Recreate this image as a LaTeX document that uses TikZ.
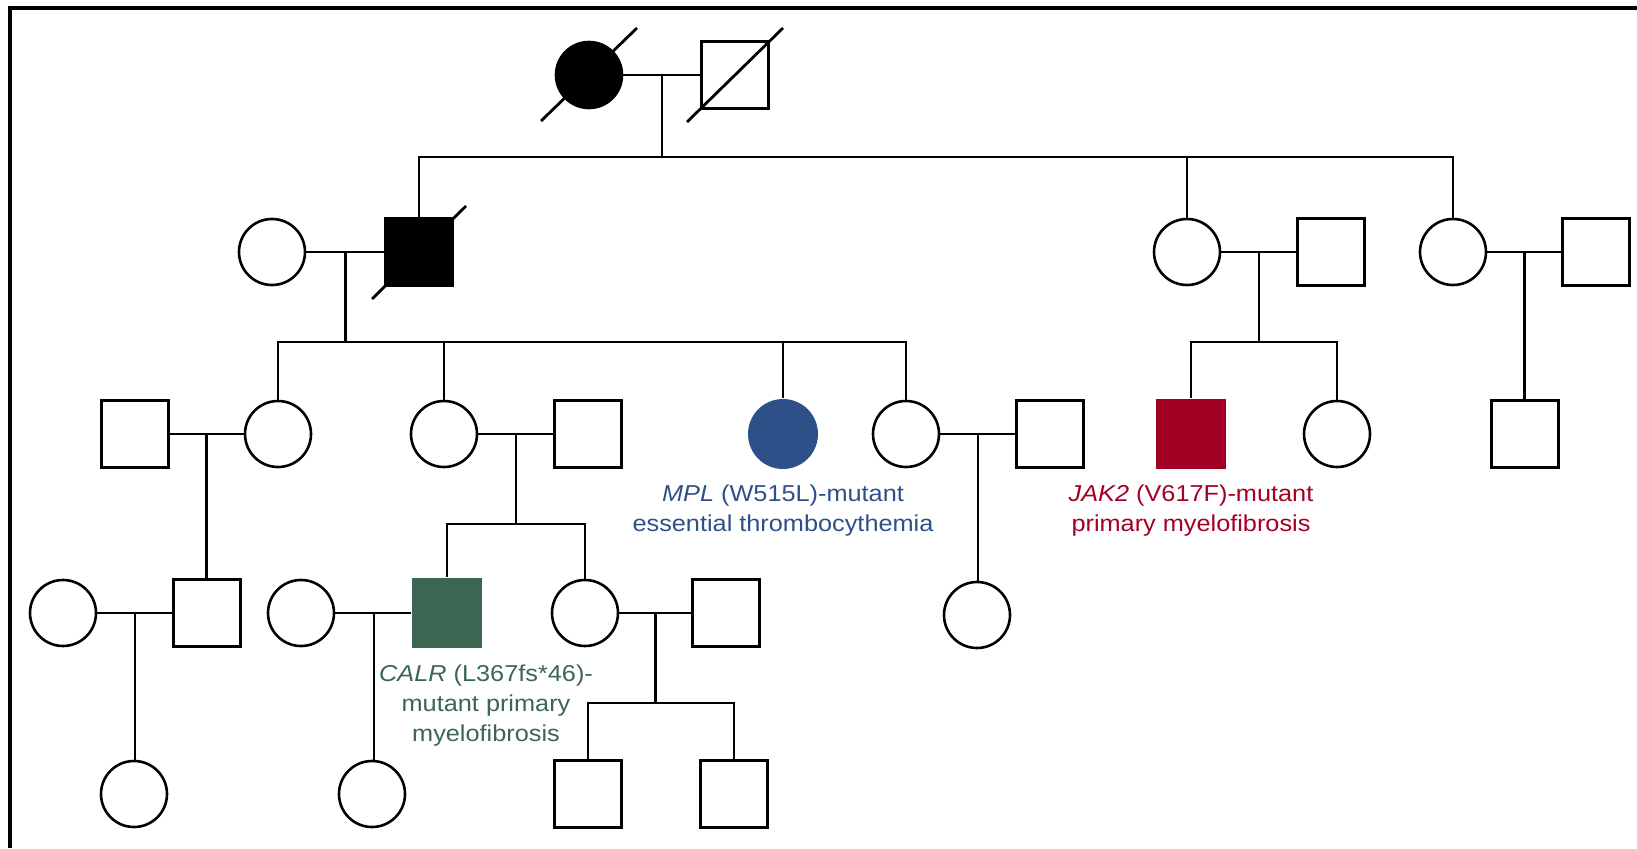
\documentclass[tikz,border=0pt]{standalone}
\usepackage{fontspec}
\setmainfont{Liberation Sans}[FakeStretch=1.1]
\usepackage{tikz}
\usetikzlibrary{calc,positioning}
\definecolor{mplblue}{HTML}{2E5088}
\definecolor{jakred}{HTML}{A30025}
\definecolor{calrgreen}{HTML}{3B6651}

\begin{document}
\begin{tikzpicture}[x=1pt,y=-1pt,line width=2.6pt]
    \tikzstyle{female}=[circle, minimum size=66pt, inner sep=0pt, draw]
    \tikzstyle{male}=[rectangle, minimum size=67pt, inner sep=0pt, draw]
    \tikzstyle{affected}=[fill=black]
    \tikzstyle{mutant}=[draw=none, minimum size=70pt]
    \tikzstyle{mut}=[font=\fontsize{23}{30}\selectfont, align=center, inner sep=0pt]

    \useasboundingbox (0,0) rectangle (1637,848);
    \draw[line width=4.5pt] (10,848) -- (10,8) -- (1637,8);

    % generation I
    \node[female,affected] (gm) at (589,75) {};
    \node[male]            (gf) at (735,75) {};
    \draw[line width=2.8pt] (gm.center) ++(-48,46) -- ++(96,-93);
    \draw[line width=2.8pt] (gf.center) ++(-48,47) -- ++(96,-94);

    % generation II
    \node[female]          (w2)  at (272,252) {};
    \node[male,affected]   (f2)  at (419,252) {};
    \node[female]          (d2a) at (1187,252) {};
    \node[male]            (h2a) at (1331,252) {};
    \node[female]          (d2b) at (1453,252) {};
    \node[male]            (h2b) at (1596,252) {};
    \draw[line width=2.8pt] (f2.center) ++(-47,47) -- ++(94,-93);

    % generation III
    \node[male]            (h3a) at (135,434) {};
    \node[female]          (d3a) at (278,434) {};
    \node[female]          (d3b) at (444,434) {};
    \node[male]            (h3b) at (588,434) {};
    \node[female,mutant,fill=mplblue] (mpl) at (783,434) {};
    \node[female]          (d3c) at (906,434) {};
    \node[male]            (h3c) at (1050,434) {};
    \node[male,mutant,fill=jakred] (jak) at (1191,434) {};
    \node[female]          (d3d) at (1337,434) {};
    \node[male]            (s3)  at (1525,434) {};

    % generation IV
    \node[female]          (w4a)  at (63,613) {};
    \node[male]            (s4a)  at (207,613) {};
    \node[female]          (w4b)  at (301,613) {};
    \node[male,mutant,fill=calrgreen] (calr) at (447,613) {};
    \node[female]          (d4a)  at (585,613) {};
    \node[male]            (h4a)  at (726,613) {};
    \node[female]          (d4b)  at (977,615) {};

    % generation V
    \node[female]          (c5a) at (134,794) {};
    \node[female]          (c5b) at (372,794) {};
    \node[male]            (c5c) at (588,794) {};
    \node[male]            (c5d) at (734,794) {};

    % unions
    \coordinate (u1) at ($(gm)!0.5!(gf)$);
    \coordinate (u2) at ($(w2)!0.5!(f2)$);
    \coordinate (u3) at ($(d2a)!0.5!(h2a)$);
    \coordinate (u4) at ($(d2b)!0.5!(h2b)$);
    \coordinate (u5) at ($(h3a)!0.5!(d3a)$);
    \coordinate (u6) at ($(d3b)!0.5!(h3b)$);
    \coordinate (u7) at ($(d3c)!0.5!(h3c)$);
    \coordinate (u8) at ($(w4a)!0.5!(s4a)$);
    \coordinate (u9) at ($(w4b)!0.5!(calr)$);
    \coordinate (u10) at ($(d4a)!0.5!(h4a)$);
    \draw (gm) -- (gf);
    \draw (w2) -- (f2);
    \draw (d2a) -- (h2a);
    \draw (d2b) -- (h2b);
    \draw (h3a) -- (d3a);
    \draw (d3b) -- (h3b);
    \draw (d3c) -- (h3c);
    \draw (w4a) -- (s4a);
    \draw (w4b) -- (calr);
    \draw (d4a) -- (h4a);

    % sibships
    \coordinate (s1) at ($(u1)+(0,82)$);
    \draw (u1) -- (s1);
    \draw (f2.north) |- (s1) -| (d2b.north);
    \draw (d2a.north) -- (d2a.north |- s1);

    \coordinate (s2) at ($(u2)+(0,90)$);
    \draw (u2) -- (s2);
    \draw (d3a.north) |- (s2) -| (d3c.north);
    \draw (d3b.north) -- (d3b.north |- s2);
    \draw (mpl.north) -- (mpl.north |- s2);

    \coordinate (s3b) at ($(u3)+(0,90)$);
    \draw (u3) -- (s3b);
    \draw (jak.north) |- (s3b) -| (d3d.north);

    \draw (u4) -- (u4 |- s3.north);
    \draw (u5) -- (u5 |- s4a.north);

    \coordinate (s6) at ($(u6)+(0,90)$);
    \draw (u6) -- (s6);
    \draw (calr.north) |- (s6) -| (d4a.north);

    \draw (u7) -- (u7 |- d4b.north);
    \draw (u8) -- (u8 |- c5a.north);
    \draw (u9) -- (u9 |- c5b.north);

    \coordinate (s10) at ($(u10)+(0,90)$);
    \draw (u10) -- (s10);
    \draw (c5c.north) |- (s10) -| (c5d.north);

    % mutations
    \node[mut, text=mplblue, below=13pt of mpl] (mpltxt)
      {\textit{MPL} (W515L)-mutant\\essential thrombocythemia};
    \node[mut, text=jakred, below=13pt of jak] (jaktxt)
      {\textit{JAK2} (V617F)-mutant\\primary myelofibrosis};
    \node[mut, text=calrgreen, anchor=north] (calrtxt) at (486,664)
      {\textit{CALR} (L367fs*46)-\\mutant primary\\myelofibrosis};
\end{tikzpicture}
\end{document}
